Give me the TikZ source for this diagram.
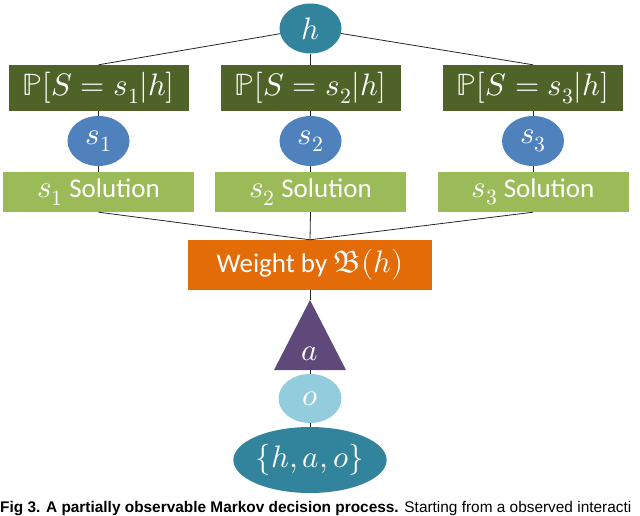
\documentclass[tikz,border=0pt]{standalone}
\usepackage{fontspec}
\usepackage{unicode-math}
\setmainfont{Carlito}
\setmathfont{Latin Modern Math}[Scale=1.15]
\newfontfamily\capfont{Liberation Sans}
\usetikzlibrary{shapes.geometric}
\definecolor{cteal}{HTML}{31849B}
\definecolor{colive}{HTML}{4F6228}
\definecolor{cblue}{HTML}{4F81BD}
\definecolor{cgreen}{HTML}{9BBB59}
\definecolor{corange}{HTML}{E36C09}
\definecolor{cpurple}{HTML}{5F497A}
\definecolor{clight}{HTML}{93CDDD}
\begin{document}
\begin{tikzpicture}[x=1pt,y=-1pt,
  conn/.style={draw=black!85, line width=0.8pt},
  lbl/.style={text=white, font=\fontsize{27}{32}\selectfont, inner sep=0pt},
  ell/.style={lbl, ellipse, minimum width=62pt, minimum height=50pt},
  pbox/.style={lbl, rectangle, fill=colive, minimum width=180pt, minimum height=46pt},
  solbox/.style={lbl, rectangle, fill=cgreen, minimum width=191pt, minimum height=40pt},
  wbox/.style={lbl, rectangle, fill=corange, minimum width=244pt, minimum height=50pt}]
\useasboundingbox (0,0) rectangle (640,516);
% top
\node[ell, fill=cteal] (h) at (310.5,28.5) {$h$};
\node[pbox] (p1) at (98.5,88) {$\mathbb{P}[S=s_1|h]$};
\node[pbox] (p2) at (310.5,88) {$\mathbb{P}[S=s_2|h]$};
\node[pbox] (p3) at (533,88) {$\mathbb{P}[S=s_3|h]$};
\node[ell, fill=cblue] (s1) at (98.5,141) {$s_1$};
\node[ell, fill=cblue] (s2) at (310.5,141) {$s_2$};
\node[ell, fill=cblue] (s3) at (533,141) {$s_3$};
\node[solbox] (sol1) at (98.5,192) {$s_1$ Solution};
\node[solbox] (sol2) at (310.5,192) {$s_2$ Solution};
\node[solbox] (sol3) at (533,192) {$s_3$ Solution};
\node[wbox] (w) at (310,265) {Weight by $\mathfrak{B}(h)$};
% triangle
\coordinate (ta) at (310,300);
\coordinate (tl) at (274,370);
\coordinate (tr) at (346,370);
\coordinate (tb) at (310,370);
\fill[cpurple] (ta) -- (tl) -- (tr) -- cycle;
\node[lbl] (a) at (310,354) {$a$};
\node[ell, fill=clight, minimum width=63pt, minimum height=49pt] (o) at (310,398.5) {$o$};
\node[ell, fill=cteal, minimum width=132pt, minimum height=66pt] (hao) at (310,460) {$\{h,a,o\}$};
% connectors
\draw[conn] (h) -- (p1.north);
\draw[conn] (h) -- (p2.north);
\draw[conn] (h) -- (p3.north);
\draw[conn] (p1) -- (s1);
\draw[conn] (p2) -- (s2);
\draw[conn] (p3) -- (s3);
\draw[conn] (s1) -- (sol1);
\draw[conn] (s2) -- (sol2);
\draw[conn] (s3) -- (sol3);
\draw[conn] (sol1.south) -- (w.north);
\draw[conn] (sol2.south) -- (w.north);
\draw[conn] (sol3.south) -- (w.north);
\draw[conn] (w.south) -- (ta);
\draw[conn] (tb) -- (o);
\draw[conn] (o) -- (hao);
% caption
\node[anchor=base west, inner sep=0pt, font=\capfont\fontsize{15.4}{18}\selectfont] (cap) at (0,512)
  {\textbf{Fig 3. A partially observable Markov decision process.} Starting from a observed interacti};
\end{tikzpicture}
\end{document}
